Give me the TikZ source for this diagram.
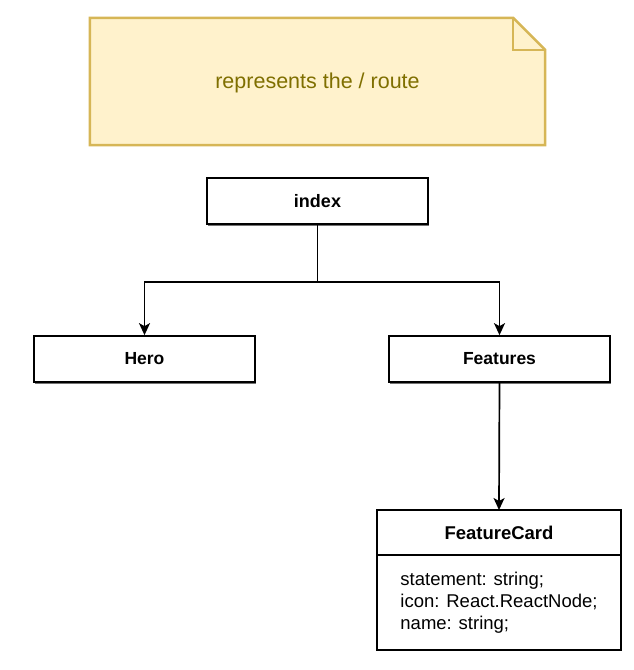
\documentclass[tikz,border=0pt]{standalone}
\usepackage{fontspec}
\setmainfont{Liberation Sans}
\usetikzlibrary{positioning,calc,arrows.meta,shadows}

\definecolor{notefill}{HTML}{FFF2CC}
\definecolor{notedraw}{HTML}{D6B656}
\definecolor{notetext}{HTML}{7F6F00}

\begin{document}
\begin{tikzpicture}[x=1pt, y=1pt,
		comp/.style={draw, line width=1.7pt, fill=white, minimum width=221pt, minimum height=46pt, inner sep=0pt, font=\fontsize{17.5}{20}\selectfont\bfseries, drop shadow={shadow xshift=0.8pt, shadow yshift=-1.6pt, fill=black!55, opacity=1}},
		link/.style={line width=1.7pt, -{Stealth[length=12pt, width=11pt, inset=3pt]}}]
		\useasboundingbox (0,0) rectangle (634,-670);
		% note
		\node[minimum width=455pt, minimum height=127pt, inner sep=0pt] (note) at (317.5,-81.5) {};
		\draw[line width=2.5pt, notedraw, fill=notefill, line join=miter] (note.north west) -- ([xshift=-32pt]note.north east) -- ([yshift=-32pt]note.north east) -- (note.south east) -- (note.south west) -- cycle;
		\draw[line width=2.5pt, notedraw] ([xshift=-32pt]note.north east) -- ([xshift=-32pt, yshift=-32pt]note.north east) -- ([yshift=-32pt]note.north east);
		\node[text=notetext, font=\fontsize{21.5}{25}\selectfont] (notetext) at ([yshift=-1pt]note.center) {represents the / route};
		% components
		\node[comp, font=\fontsize{18}{21}\selectfont\bfseries] (index) at (317.5,-201) {index};
		\node[comp] (hero) at (144.5,-359) {Hero};
		\node[comp] (features) at (499.5,-359) {Features};
		\node[draw, line width=1.7pt, fill=white, minimum width=244pt, minimum height=95pt, inner sep=0pt, outer sep=0pt, align=left, font=\fontsize{18.5}{22}\selectfont, anchor=north, drop shadow={shadow xshift=1pt, shadow yshift=-1.2pt, fill=black!35, opacity=1}] (cardbody) at (499,-555) {statement: string;\\icon: React.ReactNode;\\name: string;};
		\node[draw, line width=1.7pt, fill=white, minimum width=244pt, minimum height=45pt, inner sep=0pt, outer sep=0pt, font=\fontsize{18.5}{22}\selectfont\bfseries, above=0pt of cardbody] (card) {FeatureCard};
		% connectors
		\coordinate (split) at ([yshift=-57pt]index.south);
		\draw[line width=1.7pt] (index.south) -- (split);
		\draw[link] (split) -| (hero.north);
		\draw[link] (split) -| (features.north);
		\draw[link] (features.south) -- (card.north);
	\end{tikzpicture}
\end{document}
